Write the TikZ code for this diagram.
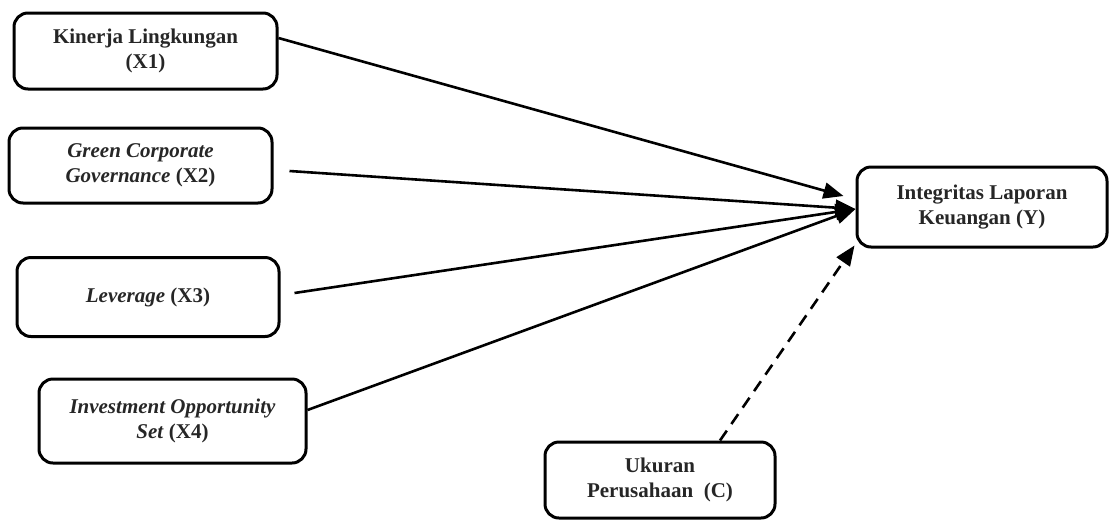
\documentclass[tikz,border=0pt]{standalone}
\usepackage{fontspec}
\setmainfont{Liberation Serif}
\usetikzlibrary{arrows.meta,calc}
\begin{document}
\begin{tikzpicture}[x=1pt,y=-1pt,
  box/.style={draw, line width=3pt, rounded corners=14pt, inner sep=0pt, align=center,
    font=\fontsize{21}{25.5}\selectfont\bfseries, text=black!85},
  link/.style={line width=2.6pt, -{Triangle[length=20pt,width=16pt]}},
  dlink/.style={link, dash pattern=on 12pt off 8pt}]
\useasboundingbox (0,0) rectangle (1110,520);
\node[box, minimum width=263pt, minimum height=76pt] (X1) at (145.5,51) {Kinerja Lingkungan\\(X1)};
\node[box, minimum width=263pt, minimum height=75pt] (X2) at (140.5,165.5) {\textit{Green Corporate}\\\textit{Governance} (X2)};
\node[box, minimum width=262pt, minimum height=79pt] (X3) at (148,297) {\textit{Leverage} (X3)};
\node[box, minimum width=267pt, minimum height=84pt] (X4) at (172.5,421) {\textit{Investment Opportunity}\\\textit{Set} (X4)};
\node[box, minimum width=250pt, minimum height=80pt] (Y) at (982,207) {Integritas Laporan\\Keuangan (Y)};
\node[box, minimum width=230pt, minimum height=76pt] (C) at (660,480) {Ukuran\\Perusahaan~ (C)};
\coordinate (s1) at ($(X1.east)+(0,-13)$);
\coordinate (s2) at ($(X2.east)+(16,5.5)$);
\coordinate (s3) at ($(X3.east)+(14,-4)$);
\coordinate (s4) at ($(X4.east)+(0,-11)$);
\coordinate (t1) at ($(Y.west)+(-12,-11)$);
\coordinate (t2) at ($(Y.west)+(0,2)$);
\coordinate (tc) at ($(Y.south west)+(-1,-3)$);
\coordinate (sc) at ($(C.north)+(60,0)$);
\draw[link] (s1) -- (t1);
\draw[link] (s2) -- (t2);
\draw[link] (s3) -- (t2);
\draw[link] (s4) -- (t2);
\draw[dlink] (sc) -- (tc);
\end{tikzpicture}
\end{document}
